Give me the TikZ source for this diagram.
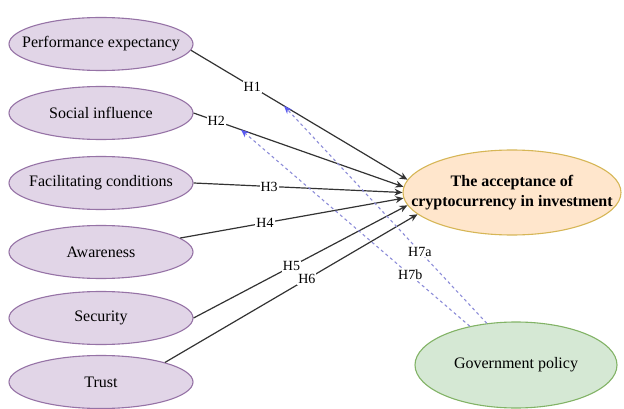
\documentclass[tikz,border=0pt]{standalone}
\usepackage{fontspec}
\setmainfont{Liberation Serif}
\usetikzlibrary{shapes.geometric,arrows.meta}
\definecolor{pfill}{HTML}{E1D5E7}
\definecolor{pdraw}{HTML}{9673A6}
\definecolor{ofill}{HTML}{FFE6CC}
\definecolor{odraw}{HTML}{D6B656}
\definecolor{gfill}{HTML}{D5E8D4}
\definecolor{gdraw}{HTML}{82B366}
\definecolor{lcol}{HTML}{333333}
\definecolor{dcol}{HTML}{8C8CD8}
\definecolor{tipcol}{HTML}{5A5AF0}
\tikzset{
  pell/.style={ellipse, draw=pdraw, fill=pfill, line width=1.1pt, minimum width=184pt, minimum height=53pt, inner sep=0pt},
  oell/.style={ellipse, draw=odraw, fill=ofill, line width=1.1pt, minimum width=218pt, minimum height=85pt, inner sep=0pt},
  gell/.style={ellipse, draw=gdraw, fill=gfill, line width=1.1pt, minimum width=202pt, minimum height=86pt, inner sep=0pt},
  txt/.style={font=\fontsize{16}{19}\selectfont, inner sep=0pt, align=center},
  btxt/.style={font=\fontsize{16}{20}\selectfont\bfseries, inner sep=0pt, align=center},
  hyp/.style={draw=lcol, line width=1.2pt, -{Stealth[length=8pt,width=7pt]}},
  dhyp/.style={draw=dcol, line width=1.1pt, dash pattern=on 3pt off 3pt, -{Stealth[length=8pt,width=6.5pt,color=tipcol,fill=tipcol]}},
  lab/.style={font=\fontsize{14}{16}\selectfont, fill=white, inner sep=1pt, text=black}
}
\begin{document}
\begin{tikzpicture}[x=1pt,y=-1pt]
\useasboundingbox (0,0) rectangle (624,409);
% left constructs
\node[pell] (pe) at (101,44) {};
\node[txt] (pet) at (pe) {Performance expectancy};
\node[pell] (si) at (101,113) {};
\node[txt] (sit) at (si) {Social influence};
\node[pell] (fc) at (101,183) {};
\node[txt] (fct) at (fc) {Facilitating conditions};
\node[pell] (aw) at (101,252) {};
\node[txt] (awt) at (aw) {Awareness};
\node[pell] (se) at (101,318) {};
\node[txt] (set) at (se) {Security};
\node[pell] (tr) at (101,382) {};
\node[txt] (trt) at (tr) {Trust};
% outcome
\node[oell] (acc) at (512,192.5) {};
\node[btxt] (acct) at (acc) {The acceptance of\\cryptocurrency in investment};
% moderator
\node[gell] (gp) at (516,365) {};
\node[txt] (gpt) at (gp) {Government policy};
% hypotheses
\draw[hyp] (pe.-4) -- node[lab, pos=0.283] (h1) {H1} coordinate[pos=0.43] (h1m) (acc.173);
\draw[hyp] (si.0) -- node[lab, pos=0.108] (h2) {H2} coordinate[pos=0.226] (h2m) (acc.177.5);
\draw[hyp] (fc.0) -- node[lab, pos=0.362] (h3) {H3} (acc.180);
\draw[hyp] (aw.10) -- node[lab, pos=0.38] (h4) {H4} (acc.183);
\draw[hyp] (se.0) -- node[lab, pos=0.458] (h5) {H5} (acc.187);
\draw[hyp] (tr.17) -- node[lab, pos=0.562] (h6) {H6} (acc.193);
% moderation
\draw[dhyp] (gp.125) -- node[lab, pos=0.33] (h7a) {H7a} (h1m);
\draw[dhyp] (gp.140) -- node[lab, pos=0.26] (h7b) {H7b} (h2m);
\end{tikzpicture}
\end{document}
